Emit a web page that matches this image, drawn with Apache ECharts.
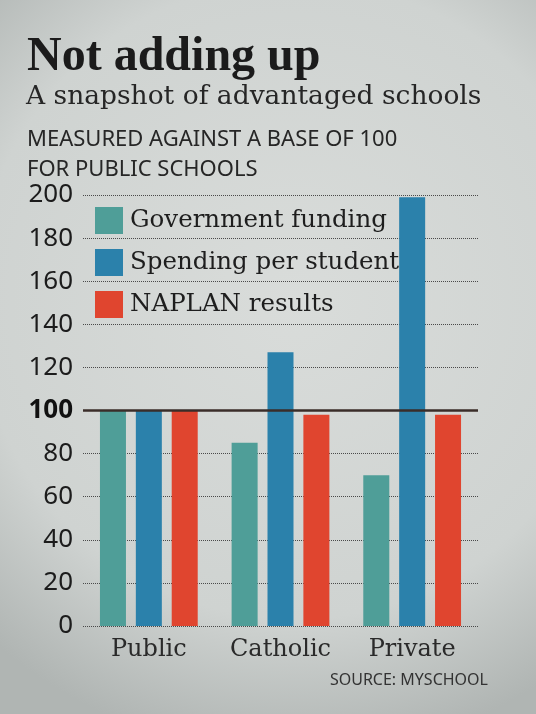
<!DOCTYPE html>
<html>
<head>
<meta charset="utf-8">
<script src="https://cdn.jsdelivr.net/npm/echarts@6/dist/echarts.min.js"></script>
<style>
  html, body { margin: 0; padding: 0; }
  #chart { width: 536px; height: 714px; }
</style>
</head>
<body>
<div id="chart"></div>
<script>
const categories = ["Public", "Catholic", "Private"];
const govFunding = [100, 85, 70];
const spending = [100, 127, 199];
const naplan = [100, 98, 98];
const seriesNames = ["Government funding", "Spending per student", "NAPLAN results"];

const govColor = "#4f9e98";
const spendColor = "#2b81ab";
const naplanColor = "#e0452f";
const serif = "'DejaVu Serif', serif";
const sans = "'Noto Sans', sans-serif";

const chart = echarts.init(document.getElementById("chart"));

const option = {
  animation: false,
  backgroundColor: new echarts.graphic.RadialGradient(0.55, 0.42, 0.85, [
    { offset: 0, color: "#d9dcda" },
    { offset: 0.7, color: "#cfd3d1" },
    { offset: 1, color: "#b0b5b3" },
  ]),
  graphic: [
    {
      type: "text",
      left: 27,
      top: 34,
      style: {
        text: "Not adding up",
        font: "bold 48px 'Liberation Serif', serif",
        fill: "#1b1b1b",
      },
    },
    {
      type: "text",
      left: 26,
      top: 84,
      style: {
        text: "A snapshot of advantaged schools",
        font: "26.5px " + serif,
        fill: "#262626",
      },
    },
    {
      type: "text",
      left: 27,
      top: 129,
      style: {
        text: "MEASURED AGAINST A BASE OF 100",
        font: "22px " + sans,
        fill: "#262626",
      },
    },
    {
      type: "text",
      left: 27,
      top: 159,
      style: {
        text: "FOR PUBLIC SCHOOLS",
        font: "22px " + sans,
        fill: "#262626",
      },
    },
    {
      type: "text",
      right: 48,
      top: 672,
      style: {
        text: "SOURCE: MYSCHOOL",
        font: "16px " + sans,
        fill: "#333",
      },
    },
  ],
  legend: {
    orient: "vertical",
    left: 95,
    top: 207,
    padding: 0,
    itemWidth: 28,
    itemHeight: 27,
    itemGap: 15,
    icon: "rect",
    data: seriesNames,
    textStyle: {
      fontFamily: serif,
      fontSize: 24.5,
      color: "#1e1e1e",
      padding: [0, 0, 0, 2],
    },
  },
  grid: {
    left: 83,
    right: 58,
    top: 195,
    bottom: 88,
  },
  xAxis: {
    type: "category",
    data: categories,
    axisLine: { show: false },
    axisTick: { show: false },
    axisLabel: {
      margin: 12,
      fontFamily: serif,
      fontSize: 24,
      color: "#2a2a2a",
    },
  },
  yAxis: {
    type: "value",
    min: 0,
    max: 200,
    interval: 20,
    axisLine: { show: false },
    axisTick: { show: false },
    splitLine: {
      lineStyle: { color: "#4a4a4a", width: 1, type: "dotted" },
    },
    axisLabel: {
      margin: 10,
      fontFamily: sans,
      fontSize: 26,
      color: "#1c1c1c",
      formatter: (v) => (v === 100 ? "{b|100}" : String(v)),
      rich: {
        b: { fontFamily: sans, fontSize: 26, fontWeight: "bold", color: "#111" },
      },
    },
  },
  series: [
    {
      name: "base",
      type: "line",
      data: [null, null, null],
      z: 1,
      silent: true,
      markLine: {
        silent: true,
        symbol: "none",
        label: { show: false },
        lineStyle: { color: "#3a2d29", width: 2.5, type: "solid" },
        data: [{ yAxis: 100 }],
      },
    },
    {
      name: seriesNames[0],
      type: "bar",
      data: govFunding,
      barWidth: 26,
      barGap: "38%",
      itemStyle: { color: govColor },
      z: 3,
    },
    {
      name: seriesNames[1],
      type: "bar",
      data: spending,
      barWidth: 26,
      itemStyle: { color: spendColor },
      z: 3,
    },
    {
      name: seriesNames[2],
      type: "bar",
      data: naplan,
      barWidth: 26,
      itemStyle: { color: naplanColor },
      z: 3,
    },
  ],
};

chart.setOption(option);
</script>
</body>
</html>
